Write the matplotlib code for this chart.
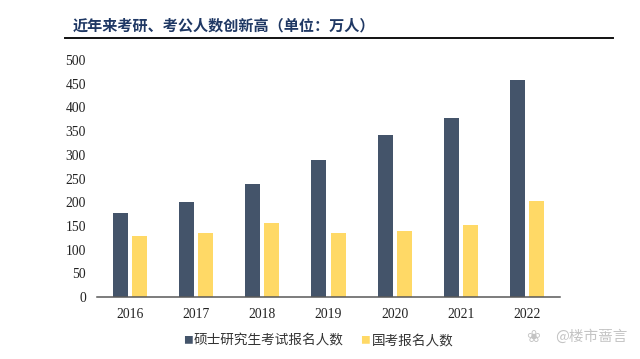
import matplotlib
matplotlib.use("Agg")
import matplotlib.pyplot as plt
from matplotlib.lines import Line2D
import numpy as np

plt.rcParams['font.family'] = ['Noto Sans CJK SC', 'DejaVu Sans']

years = ["2016", "2017", "2018", "2019", "2020", "2021", "2022"]
grad_exam = [177, 201, 238, 290, 341, 377, 457]
civil_exam = [129, 134, 157, 134, 140, 152, 203]
yticks = [0, 50, 100, 150, 200, 250, 300, 350, 400, 450, 500]

fig = plt.figure(figsize=(6.4, 3.59), dpi=100)
ax = fig.add_axes([97 / 640, 1 - 297 / 359, (560 - 97) / 640, (297 - 60) / 359])

x = np.arange(len(years))
ax.bar(x - 0.145, grad_exam, 0.227, color="#44546a")
ax.bar(x + 0.145, civil_exam, 0.227, color="#ffd966")

ax.set_xlim(-0.5, 6.5)
ax.set_ylim(0, 500)
ax.set_xticks(x)
ax.set_xticklabels(years, family=['Liberation Serif'], fontsize=9.8, color="#222222")
ax.set_yticks(yticks)
ax.set_yticklabels(yticks, family=['Liberation Serif'], fontsize=9.8, color="#222222")
ax.tick_params(axis='y', length=0, pad=8)
ax.tick_params(axis='x', length=0, pad=8)
for s in ['top', 'right', 'left']:
	ax.spines[s].set_visible(False)
ax.spines['bottom'].set_color("#595959")
ax.spines['bottom'].set_linewidth(1.1)

fig.text(73 / 640, 1 - 25 / 359, "近年来考研、考公人数创新高（单位：万人）", fontsize=10.9,
	color="#1f3864", weight='bold', va='center')
fig.add_artist(Line2D([65 / 640, 613 / 640], [1 - 38 / 359, 1 - 38 / 359], color="#111111", lw=1.4))

fig.text(188 / 640, 1 - 340 / 359, "■", color="#44546a", fontsize=7, va='center', ha='center')
fig.text(194 / 640, 1 - 340 / 359, "硕士研究生考试报名人数", color="#333333", fontsize=9.8, va='center')
fig.text(365 / 640, 1 - 340 / 359, "■", color="#ffd966", fontsize=7, va='center', ha='center')
fig.text(372 / 640, 1 - 340 / 359, "国考报名人数", color="#333333", fontsize=9.8, va='center')

# watermark
fig.text(533 / 640, 1 - 337 / 359, "❀", color="#c4c4c4", fontsize=12, va='center', ha='center',
	family=['DejaVu Sans'])
fig.text(627 / 640, 1 - 337 / 359, "@楼市蔷言", color="#c4c4c4", fontsize=10.5, va='center', ha='right')

fig.savefig("out.png", dpi=100)
